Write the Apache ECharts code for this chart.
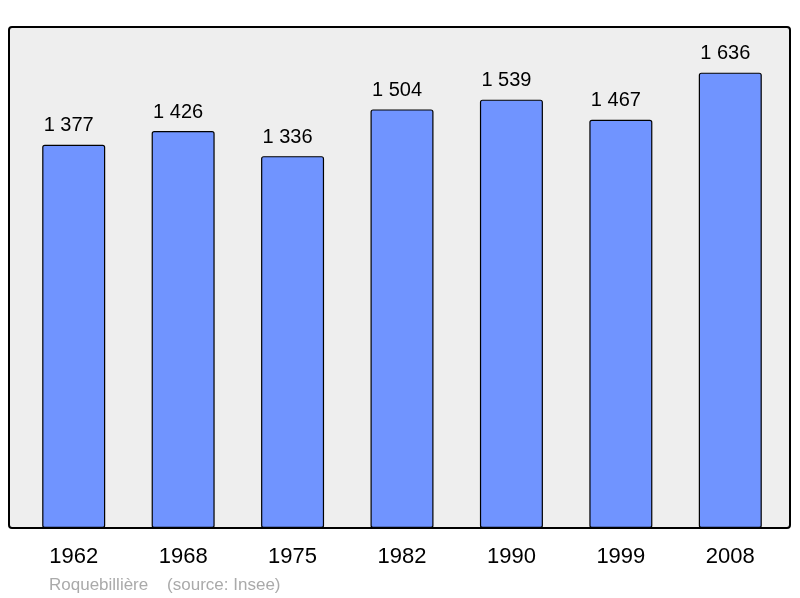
<!DOCTYPE html>
<html>
<head>
<meta charset="utf-8">
<script src="https://cdn.jsdelivr.net/npm/echarts@6/dist/echarts.min.js"></script>
<style>html,body{margin:0;padding:0;background:#fff;}#c{width:800px;height:598px;}</style>
</head>
<body>
<div id="c"></div>
<script>
const years = ['1962','1968','1975','1982','1990','1999','2008'];
const population = [1377, 1426, 1336, 1504, 1539, 1467, 1636];
const footer = 'Roquebillière    (source: Insee)';

const fmt = v => String(v).replace(/\B(?=(\d{3})+(?!\d))/g, ' ');

const chart = echarts.init(document.getElementById('c'), null, {renderer: 'canvas'});
chart.setOption({
  animation: false,
  backgroundColor: '#ffffff',
  textStyle: {fontFamily: 'Liberation Sans, Arial, sans-serif'},
  graphic: [
    {type: 'rect', z: -10, shape: {x: 9, y: 27, width: 781, height: 501, r: 3},
     style: {fill: '#eeeeee', stroke: '#000000', lineWidth: 2}},
    {type: 'text', left: 49, top: 577, z: 10,
     style: {text: footer, fill: '#aaaaaa', font: '17px "Liberation Sans", Arial, sans-serif'}}
  ],
  grid: {left: 19, right: 15, top: 27, bottom: 70, containLabel: false},
  xAxis: {
    type: 'category', data: years,
    axisLine: {show: false}, axisTick: {show: false},
    axisLabel: {color: '#000', fontSize: 22, margin: 18}
  },
  yAxis: {
    type: 'value', min: 0, max: 1800, show: false,
    splitLine: {show: false}
  },
  series: [{
    type: 'bar', data: population, barWidth: 63,
    itemStyle: {color: '#7094ff', borderColor: '#000', borderWidth: 1.2, borderRadius: 2},
    label: {show: true, position: 'top', distance: 9, offset: [-5, 0], color: '#000', fontSize: 20,
      formatter: p => fmt(p.value)}
  }]
});
</script>
</body>
</html>
